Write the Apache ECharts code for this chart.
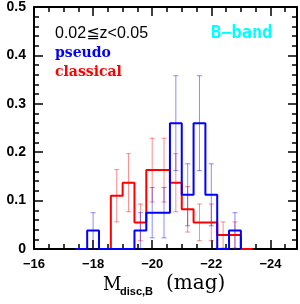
<!DOCTYPE html>
<html><head><meta charset="utf-8">
<script src="https://cdn.jsdelivr.net/npm/echarts@6/dist/echarts.min.js"></script>
<style>html,body{margin:0;padding:0;background:#fff}#c{width:300px;height:304px}</style>
</head><body><div id="c"></div>
<script>
// Bin width (mag)
const binWidth = 0.4;
// pseudo bulges (blue)
const pseudoBins = [-17.6, -18.0, -18.4, -18.8, -19.2, -19.6, -20.0, -20.4, -20.8, -21.2, -21.6, -22.0, -22.4, -22.8];
const pseudoFrac = [0, 0.038, 0, 0, 0, 0.038, 0.075, 0.075, 0.260, 0.112, 0.260, 0.112, 0, 0.038];
const pseudoErr  = [0, 0.037, 0, 0, 0, 0.037, 0.052, 0.052, 0.098, 0.064, 0.098, 0.064, 0, 0.037];
// classical bulges (red)
const classicalBins = [-18.4, -18.8, -19.2, -19.6, -20.0, -20.4, -20.8, -21.2, -21.6, -22.0, -22.4, -22.8, -23.2];
const classicalFrac = [0, 0.110, 0.137, 0.055, 0.163, 0.163, 0.137, 0.082, 0.055, 0.055, 0.029, 0.029, 0];
const classicalErr  = [0, 0.054, 0.060, 0.038, 0.066, 0.066, 0.060, 0.047, 0.038, 0.038, 0.027, 0.027, 0];
// axis ticks
const xTickLabels = [-16, -18, -20, -22, -24];
const yTickLabels = ['0', '0.1', '0.2', '0.3', '0.4', '0.5'];

function stepPoints(centers, vals) {
  const pts = centers.map((c, i) => [-c - binWidth / 2, vals[i]]);
  const last = centers.length - 1;
  pts.push([-centers[last] + binWidth / 2, vals[last]]);
  pts.push([-centers[last] + binWidth / 2, 0]);
  return pts;
}
function errData(centers, vals, errs) {
  const out = [];
  centers.forEach((c, i) => { if (errs[i] > 0) out.push([-c, vals[i], errs[i]]); });
  return out;
}
function errRender(color) {
  return function (params, api) {
    const x = api.value(0), y = api.value(1), e = api.value(2);
    const t = api.coord([x, y + e]);
    const b = api.coord([x, Math.max(0, y - e)]);
    const hw = 2.5;
    const st = { stroke: color, lineWidth: 1 };
    return { type: 'group', children: [
      { type: 'line', shape: { x1: t[0], y1: t[1], x2: b[0], y2: b[1] }, style: st },
      { type: 'line', shape: { x1: t[0] - hw, y1: t[1], x2: t[0] + hw, y2: t[1] }, style: st },
      { type: 'line', shape: { x1: b[0] - hw, y1: b[1], x2: b[0] + hw, y2: b[1] }, style: st }
    ]};
  };
}

const xMin = 16, xMax = 24.9;
const axisCol = '#000';
function xAx(pos, major, labels) {
  return {
    type: 'value', position: pos, min: xMin, max: xMax, interval: major ? 2 : 0.5,
    axisLine: { show: major, onZero: false, lineStyle: { color: axisCol, width: 2 } },
    axisTick: { show: true, inside: true, length: major ? 9 : 5, lineStyle: { color: axisCol, width: 1.5 } },
    axisLabel: labels ? {
      show: true, margin: 9, color: '#000', fontFamily: 'Liberation Sans', fontWeight: 'bold', fontSize: 13,
      showMaxLabel: false,
      formatter: v => (xTickLabels.indexOf(-v) >= 0 ? '\u2212' + v : '')
    } : { show: false },
    splitLine: { show: false }
  };
}
function yAx(pos, labels) {
  return {
    type: 'value', position: pos, min: 0, max: 0.5, interval: 0.1,
    axisLine: { show: true, onZero: false, lineStyle: { color: axisCol, width: 2 } },
    axisTick: { show: true, inside: true, length: 9, lineStyle: { color: axisCol, width: 1.5 } },
    minorTick: { show: true, splitNumber: 5, length: 5, lineStyle: { color: axisCol, width: 1.5 } },
    axisLabel: labels ? {
      show: true, margin: 8, color: '#000', fontFamily: 'Liberation Sans', fontWeight: 'bold', fontSize: 14,
      formatter: v => yTickLabels[Math.round(v * 10)]
    } : { show: false },
    splitLine: { show: false }, minorSplitLine: { show: false }
  };
}

const chart = echarts.init(document.getElementById('c'), null, { renderer: 'canvas' });
chart.setOption({
  animation: false,
  backgroundColor: '#fff',
  grid: { left: 34, right: 3, top: 5, bottom: 55 },
  xAxis: [xAx('bottom', true, true), xAx('bottom', false, false), xAx('top', true, false), xAx('top', false, false)],
  yAxis: [yAx('left', true), yAx('right', false)],
  series: [
    { type: 'custom', xAxisIndex: 0, yAxisIndex: 0, renderItem: errRender('rgba(255,0,0,0.45)'),
      data: errData(classicalBins, classicalFrac, classicalErr), z: 3 },
    { type: 'custom', xAxisIndex: 0, yAxisIndex: 0, renderItem: errRender('rgba(0,0,255,0.45)'),
      data: errData(pseudoBins, pseudoFrac, pseudoErr), z: 3 },
    { type: 'line', step: 'end', xAxisIndex: 0, yAxisIndex: 0, showSymbol: false, symbol: 'none',
      data: stepPoints(classicalBins, classicalFrac), lineStyle: { color: '#ff0000', width: 2 }, z: 4 },
    { type: 'line', step: 'end', xAxisIndex: 0, yAxisIndex: 0, showSymbol: false, symbol: 'none',
      data: stepPoints(pseudoBins, pseudoFrac), lineStyle: { color: '#0000ff', width: 2 }, z: 5 }
  ],
  graphic: [
    { type: 'text', left: 55, top: 26, style: { text: '0.02\u2266z<0.05', fill: '#000', font: '16px "Liberation Sans", "DejaVu Sans", "Noto Sans CJK JP"' } },
    { type: 'text', left: 55, top: 46, style: { text: 'pseudo', fill: '#0000ff', font: 'bold 14px "DejaVu Serif"' } },
    { type: 'text', left: 55, top: 65, style: { text: 'classical', fill: '#ff0000', font: 'bold 14px "DejaVu Serif"' } },
    { type: 'text', left: 211, top: 25, style: { text: 'B\u2212band', fill: '#00ffff', font: 'bold 17px "DejaVu Sans Mono"' } },
    { type: 'text', left: 103, top: 276, style: { text: 'M', fill: '#000', font: '18px "DejaVu Serif"' } },
    { type: 'text', left: 120, top: 286, style: { text: 'disc,B', fill: '#000', font: 'bold 11px "Liberation Sans"' } },
    { type: 'text', left: 166, top: 274, style: { text: '(mag)', fill: '#000', font: '20px "DejaVu Serif"' } }
  ]
});
</script>
</body></html>
